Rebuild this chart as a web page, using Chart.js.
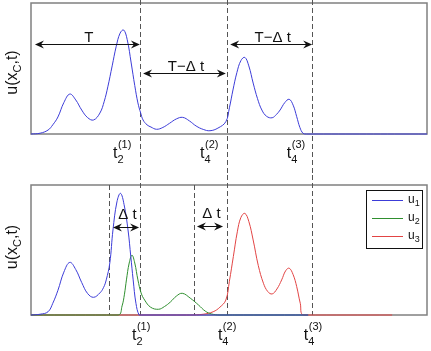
<!DOCTYPE html>
<html><head><meta charset="utf-8">
<script src="https://cdn.jsdelivr.net/npm/chart.js@4"></script>
<style>
html,body{margin:0;padding:0;background:#fff}
#wrap{position:relative;width:431px;height:351px}
#wrap canvas{position:absolute;left:0}
</style></head><body>
<div id="wrap">
<canvas id="cTop" width="431" height="175" style="top:0"></canvas>
<canvas id="cBot" width="431" height="176" style="top:175px"></canvas>
</div>
<script>
// --- datos (t en unidades 0-100, u normalizado) ---
var topX=[0,2.3,4.3,5.5,6.8,8.3,9.8,11.3,12.8,14.3,15.8,17.4,18.5,19.4,20.5,21.5,22.5,23.4,24.3,25.3,26.2,27.0,27.7,28.3,29.3,30.3,31.7,33.3,35.0,36.7,38.3,40.0,41.7,43.5,45.2,47.2,49.2,50.1,51.0,52.0,53.0,54.0,55.0,56.1,57.2,58.3,59.5,60.9,62.0,62.9,64.1,65.2,66.2,67.1,67.9,68.7,69.5,100];
var topY=[0,0.006,0.03,0.07,0.13,0.24,0.305,0.26,0.183,0.125,0.107,0.16,0.25,0.36,0.52,0.666,0.77,0.794,0.72,0.542,0.37,0.237,0.16,0.107,0.07,0.053,0.036,0.05,0.082,0.115,0.127,0.1,0.061,0.035,0.025,0.045,0.094,0.2,0.336,0.47,0.56,0.585,0.52,0.389,0.27,0.183,0.135,0.124,0.15,0.183,0.24,0.265,0.22,0.132,0.05,0.005,0,0];

var u1X=[0,2.3,4.3,5.5,6.8,8.3,9.8,11.3,12.8,14.3,15.8,17.4,18.3,19.0,19.9,20.7,21.7,22.6,23.5,24.5,25.2,25.8,26.5,27.3,28.0,70];
var u1Y=[0,0.006,0.025,0.09,0.19,0.33,0.405,0.35,0.25,0.165,0.136,0.17,0.21,0.27,0.4,0.654,0.87,0.936,0.85,0.654,0.45,0.27,0.09,0,0,0];
var u2X=[0,22.0,23.0,23.6,24.1,24.8,25.5,26.2,27.0,27.8,28.7,30.2,32.2,33.7,35.2,36.7,38.2,40.2,42.3,44.0,45.6,47.7,70];
var u2Y=[0,0,0.07,0.16,0.27,0.4,0.46,0.4,0.27,0.17,0.115,0.06,0.044,0.065,0.1,0.145,0.167,0.13,0.077,0.03,0.008,0,0];
var u3X=[0,40.0,43.5,46.0,47.7,49.2,50.1,51.1,52.1,53.0,54.0,55.0,56.1,57.4,58.7,59.8,60.9,62.1,63.3,64.3,65.2,66.2,67.1,68.0,68.9,91.2];
var u3Y=[0,0,0.006,0.025,0.06,0.115,0.26,0.45,0.64,0.75,0.782,0.72,0.577,0.38,0.244,0.18,0.162,0.2,0.27,0.34,0.36,0.31,0.218,0.09,0,0];
var serieNombres=['u1','u2','u3'];
var serieColores=['#3c3cd8','#2f8f2f','#e24444'];

// lineas discontinuas (t)
var dashLargos=[27.5,49.5,71];
var dashCortos=[19.7,41.2];
// etiquetas t_sub^(sup)
var tickSub=['2','4','4'];
var tickSup=['(1)','(2)','(3)'];
var tickTop=[20.7,42.7,64.6];
var tickBot=[25.5,47.2,68.9];
// flechas: [x0,x1,y,texto]
var flechasTop=[[1.0,27.5,0.687,'T'],[28.3,49.2,0.466,'T\u2212\u0394 t'],[50.3,71,0.687,'T\u2212\u0394 t']];
var flechasBot=[[20.7,27.3,0.677,'\u0394 t'],[41.9,48.5,0.685,'\u0394 t']];

var FONT="'Liberation Sans', Arial, Helvetica, sans-serif";

function pts(xs,ys){return xs.map(function(x,i){return{x:x,y:ys[i]};});}

function anchoPartes(ctx,partes){
  var w=0;
  partes.forEach(function(p){ctx.font=p.s+'px '+FONT;w+=ctx.measureText(p.t).width;});
  return w;
}
function dibujaPartes(ctx,partes,x,y){
  partes.forEach(function(p){
    ctx.font=p.s+'px '+FONT;
    ctx.fillText(p.t,x,y+(p.dy||0));
    x+=ctx.measureText(p.t).width;
  });
}
function etiquetaT(ctx,x,base,sub,sup){
  ctx.textAlign='left';ctx.textBaseline='alphabetic';
  ctx.font='16px '+FONT;
  ctx.fillText('t',x,base);
  var w=ctx.measureText('t').width;
  ctx.font='11px '+FONT;
  ctx.fillText(sup,x+w+0.5,base-10);
  ctx.fillText(sub,x+w,base+4.5);
}
function punta(ctx,x,y,d){
  ctx.beginPath();
  ctx.moveTo(x,y);
  ctx.lineTo(x+d*9,y-4);
  ctx.lineTo(x+d*6,y);
  ctx.lineTo(x+d*9,y+4);
  ctx.closePath();ctx.fill();
}

function makeDeco(cfg){
  return {
    id:'deco',
    beforeDatasetsDraw:function(chart){
      var ctx=chart.ctx,a=chart.chartArea,xs=chart.scales.x;
      ctx.save();
      ctx.strokeStyle='#808080';ctx.lineWidth=1.5;
      ctx.strokeRect(a.left,a.top,a.right-a.left,a.bottom-a.top);
      ctx.strokeStyle='#555';ctx.lineWidth=1;ctx.setLineDash([5,3]);
      cfg.dashes.forEach(function(d){
        var px=Math.round(xs.getPixelForValue(d[0]))+0.5;
        var y0=d[1]==='full'?0:a.top, y1=d[2]==='full'?chart.height:a.bottom;
        ctx.beginPath();ctx.moveTo(px,y0);ctx.lineTo(px,y1);ctx.stroke();
      });
      ctx.restore();
    },
    afterDatasetsDraw:function(chart){
      var ctx=chart.ctx,a=chart.chartArea,xs=chart.scales.x,ys=chart.scales.y;
      ctx.save();
      ctx.fillStyle='#111';ctx.strokeStyle='#111';ctx.lineWidth=1;
      // flechas
      cfg.flechas.forEach(function(f){
        var x0=xs.getPixelForValue(f[0]),x1=xs.getPixelForValue(f[1]),y=Math.round(ys.getPixelForValue(f[2]))+0.5;
        ctx.beginPath();ctx.moveTo(x0+4,y);ctx.lineTo(x1-4,y);ctx.stroke();
        punta(ctx,x0,y,1);punta(ctx,x1,y,-1);
        ctx.font='15px '+FONT;ctx.textAlign='center';ctx.textBaseline='alphabetic';
        ctx.fillText(f[3],(x0+x1)/2+1.5,y-cfg.txtOff);
      });
      // etiquetas t
      cfg.ticks.forEach(function(v,i){
        etiquetaT(ctx,xs.getPixelForValue(v),a.bottom+cfg.tickBase,tickSub[i],tickSup[i]);
      });
      // eje y
      var partes=[{t:'u(x',s:16},{t:'C',s:11,dy:4},{t:',t)',s:16}];
      ctx.save();
      ctx.translate(17,(a.top+a.bottom)/2+cfg.yOff);
      ctx.rotate(-Math.PI/2);
      ctx.textAlign='left';ctx.textBaseline='alphabetic';
      dibujaPartes(ctx,partes,-anchoPartes(ctx,partes)/2,0);
      ctx.restore();
      // leyenda
      if(cfg.leyenda){
        var lx=a.right-61,ly=a.top+5,lw=56,lh=58;
        ctx.fillStyle='#fff';ctx.fillRect(lx,ly,lw,lh);
        ctx.strokeStyle='#111';ctx.strokeRect(lx+0.5,ly+0.5,lw,lh);
        chart.data.datasets.forEach(function(ds,i){
          var yy=Math.round(ly+10+i*18)+0.5;
          ctx.strokeStyle=ds.borderColor;ctx.beginPath();ctx.moveTo(lx+6,yy);ctx.lineTo(lx+37,yy);ctx.stroke();
          ctx.fillStyle='#111';ctx.textAlign='left';ctx.textBaseline='alphabetic';
          dibujaPartes(ctx,[{t:ds.label.charAt(0),s:12},{t:ds.label.slice(1),s:9,dy:3}],lx+42,yy+2);
        });
      }
      ctx.restore();
    }
  };
}

function opciones(){
  return {
    responsive:false,animation:false,
    layout:{padding:{left:31,top:0,right:4,bottom:0}},
    plugins:{legend:{display:false},tooltip:{enabled:false}},
    elements:{point:{radius:0},line:{borderWidth:1,tension:0.4}},
    scales:{
      x:{type:'linear',min:0,max:100,display:false},
      y:{min:0,max:1,display:false}
    }
  };
}

var oTop=opciones();oTop.layout.padding.top=3;oTop.layout.padding.bottom=41;
new Chart(document.getElementById('cTop'),{
  type:'line',
  data:{datasets:[{label:'u',data:pts(topX,topY),borderColor:serieColores[0],fill:false,clip:false}]},
  options:oTop,
  plugins:[makeDeco({
    dashes:dashLargos.map(function(x){return[x,'full','full'];}),
    flechas:flechasTop,txtOff:2.5,ticks:tickTop,tickBase:24,yOff:4,leyenda:false
  })]
});

var oBot=opciones();oBot.layout.padding.top=10;oBot.layout.padding.bottom=36;
new Chart(document.getElementById('cBot'),{
  type:'line',
  data:{datasets:[
    {label:serieNombres[0],data:pts(u1X,u1Y),borderColor:serieColores[0],fill:false,clip:false},
    {label:serieNombres[1],data:pts(u2X,u2Y),borderColor:serieColores[1],fill:false,clip:false},
    {label:serieNombres[2],data:pts(u3X,u3Y),borderColor:serieColores[2],fill:false,clip:false}
  ]},
  options:oBot,
  plugins:[makeDeco({
    dashes:dashLargos.map(function(x){return[x,'full','area'];}).concat(dashCortos.map(function(x){return[x,'area','area'];})),
    flechas:flechasBot,txtOff:9,ticks:tickBot,tickBase:25,yOff:-3,leyenda:true
  })]
});
</script>
</body></html>
